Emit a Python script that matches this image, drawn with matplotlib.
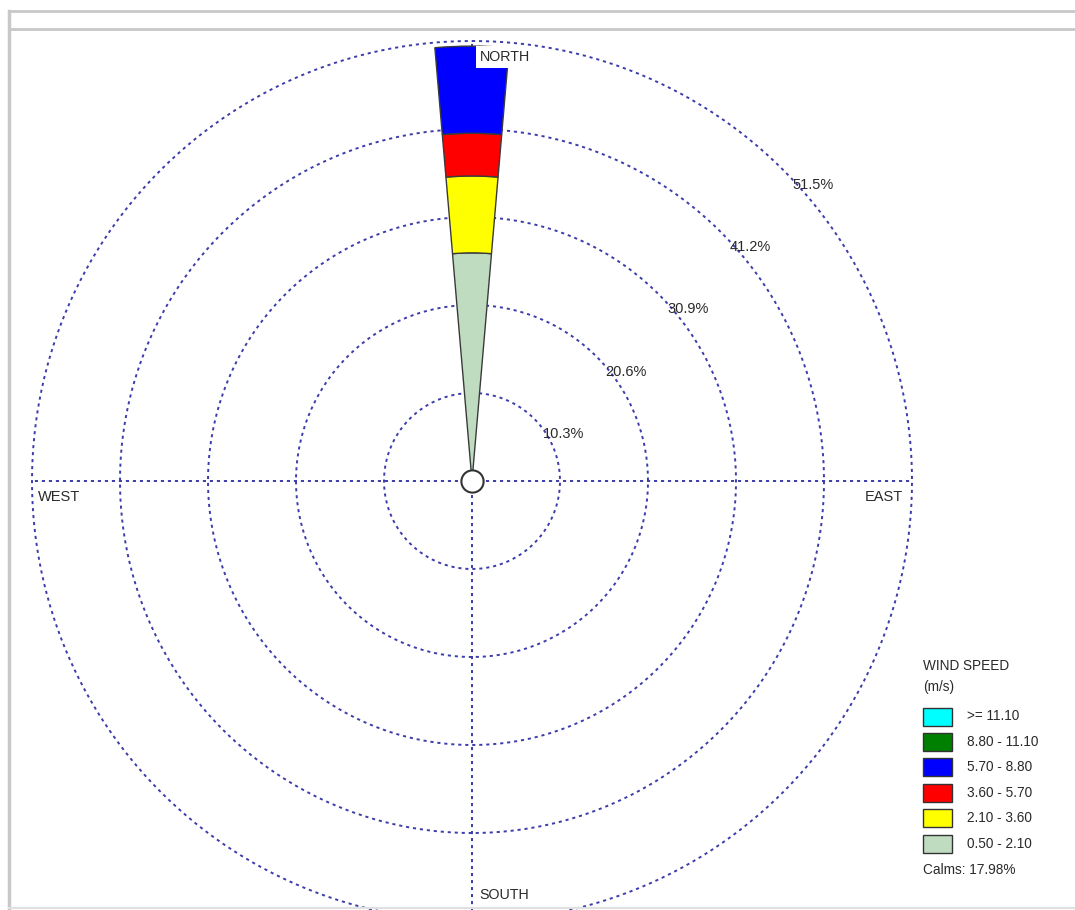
import numpy as np
import matplotlib
matplotlib.use('Agg')
import matplotlib.pyplot as plt
from matplotlib.patches import Rectangle
from matplotlib.lines import Line2D

plt.rcParams['font.family'] = ['Liberation Sans', 'DejaVu Sans']

# wind speed classes (m/s), lowest first
speed_bins = ['0.50 - 2.10', '2.10 - 3.60', '3.60 - 5.70', '5.70 - 8.80', '8.80 - 11.10', '>= 11.10']
speed_colors = ['#c0dcc0', '#ffff00', '#ff0000', '#0000ff', '#008000', '#00ffff']
# frequency (%) of each class, all from the north
north_freq = [26.7, 9.0, 5.0, 10.2, 0.0, 0.0]
ring_levels = [10.3, 20.6, 30.9, 41.2, 51.5]
calms = 17.98

W, H = 1075, 910
fig = plt.figure(figsize=(W / 100, H / 100), dpi=100)
fig.patch.set_facecolor('white')

# polar axes placed so the rose centre sits where it does in the screenshot
rmax = 53.0
R = 440 * rmax / 51.5
cx, cy = 472, H - 481
ax = fig.add_axes([(cx - R) / W, (cy - R) / H, 2 * R / W, 2 * R / H], projection='polar')
ax.set_theta_zero_location('N')
ax.set_theta_direction(-1)
ax.set_ylim(0, rmax)
ax.set_facecolor('none')
ax.grid(False)
ax.set_xticks([])
ax.set_yticks([])
ax.spines['polar'].set_visible(False)

grid_col = '#3c3caa'
dots = (0, (1.6, 2.0))
th = np.linspace(0, 2 * np.pi, 721)
for r in ring_levels:
    ax.plot(th, np.full_like(th, r), color=grid_col, lw=1.4, ls=dots, zorder=1)
for a in [0, 90, 180, 270]:
    ax.plot([np.radians(a)] * 2, [0, ring_levels[-1]], color=grid_col, lw=1.4, ls=dots, zorder=1)

# stacked petal for north
bottom = 0
for f, c in zip(north_freq, speed_colors):
    if f > 0:
        ax.bar(0, f, width=np.radians(9.8), bottom=bottom, color=c,
               edgecolor='#3a3a3a', linewidth=1.0, zorder=2)
    bottom += f

ax.plot(0, 0, 'o', ms=16, mfc='white', mec='#333333', mew=1.5, zorder=4)

txt = '#2a2a2a'
for r in ring_levels:
    ax.annotate(f'{r:.1f}%', xy=(np.pi / 4, r), xytext=(6.5, -10.8), textcoords='offset points',
                ha='left', va='center', fontsize=10.5, color=txt, zorder=5)

rdir = ring_levels[-1]
ax.annotate('NORTH', xy=(0, rdir), xytext=(5.8, -11.5), textcoords='offset points',
            ha='left', va='center', fontsize=10.3, color=txt, zorder=6,
            bbox=dict(boxstyle='square,pad=0.3', fc='white', ec='none'))
ax.annotate('WEST', xy=(np.radians(270), rdir), xytext=(4.3, -11.5), textcoords='offset points',
            ha='left', va='center', fontsize=10.5, color=txt, zorder=6)
ax.annotate('EAST', xy=(np.radians(90), rdir), xytext=(-6.5, -11.5), textcoords='offset points',
            ha='right', va='center', fontsize=10.5, color=txt, zorder=6)
ax.annotate('SOUTH', xy=(np.pi, rdir), xytext=(5.0, 18.7), textcoords='offset points',
            ha='left', va='center', fontsize=10.3, color=txt, zorder=6)

# legend drawn in pixel positions
def fx(x):
    return x / W

def fy(y):
    return 1 - y / H

fs_leg = 9.8
fig.text(fx(923), fy(666), 'WIND SPEED', ha='left', va='center', fontsize=fs_leg, color=txt)
fig.text(fx(923), fy(687), '(m/s)', ha='left', va='center', fontsize=fs_leg, color=txt)
y0, step = 716.5, 25.4
for i, (lab, c) in enumerate(zip(speed_bins[::-1], speed_colors[::-1])):
    yc = y0 + i * step
    fig.add_artist(Rectangle((fx(923), fy(yc + 9)), 29 / W, 18 / H, transform=fig.transFigure,
                             facecolor=c, edgecolor='#333333', linewidth=1.0))
    fig.text(fx(967), fy(yc), lab, ha='left', va='center', fontsize=fs_leg, color=txt)
fig.text(fx(923), fy(870), f'Calms: {calms:.2f}%', ha='left', va='center', fontsize=fs_leg, color=txt)

# screenshot window frame
frame_col = '#c8c8c8'
fig.add_artist(Line2D([fx(9), 1], [fy(11), fy(11)], color=frame_col, lw=2))
fig.add_artist(Line2D([fx(9), 1], [fy(29), fy(29)], color=frame_col, lw=2))
fig.add_artist(Line2D([fx(9), fx(9)], [fy(11), 0], color=frame_col, lw=2.5))
fig.add_artist(Line2D([fx(9), 1], [fy(908), fy(908)], color='#e0e0e0', lw=1.5))

fig.savefig('out.png', dpi=100, facecolor='white')
